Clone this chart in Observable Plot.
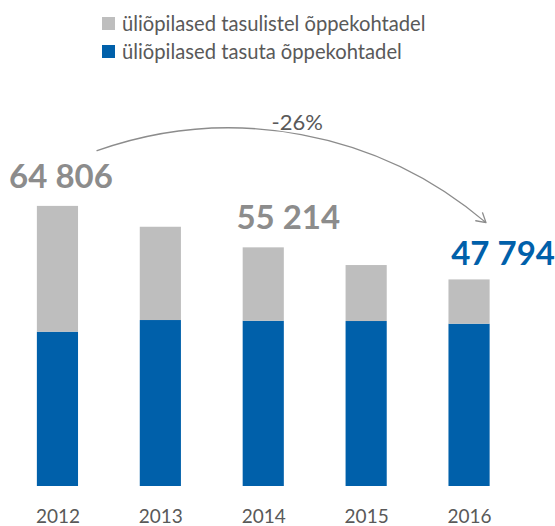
<!DOCTYPE html>
<html><head><meta charset="utf-8">
<script src="https://cdn.jsdelivr.net/npm/d3@7"></script>
<script src="https://cdn.jsdelivr.net/npm/@observablehq/plot@0.6"></script>
<style>
body{margin:0;background:#fff;font-family:Lato,"Open Sans",sans-serif;}
#legend{position:relative;height:80px;width:555px;}
.item{position:absolute;left:102px;display:flex;align-items:center;font-size:20.2px;color:#595959;white-space:nowrap;line-height:26px;}
.sw{width:13px;height:13px;margin-right:7px;flex:none;}
#chart svg{display:block;}
</style></head><body>
<div id="legend"></div><div id="chart"></div>
<script>
const years = [2012, 2013, 2014, 2015, 2016];
const paidPlaces = [29106, 21580, 16974, 12950, 10244];
const freePlaces = [35700, 38400, 38240, 38170, 37550];
const seriesNames = ["üliõpilased tasulistel õppekohtadel", "üliõpilased tasuta õppekohtadel"];
const seriesColors = ["#BEBEBE", "#0060AA"];
const changeLabel = "-26%";
const arrowFrom = {year: 2012.38, value: 77700};
const arrowTo = {year: 2016.16, value: 61050};

// legend
const legend = document.getElementById("legend");
seriesNames.forEach((name, i) => {
  const it = document.createElement("div");
  it.className = "item";
  it.style.top = (i === 0 ? 10 : 38) + "px";
  const sw = document.createElement("span");
  sw.className = "sw"; sw.style.background = seriesColors[i];
  const tx = document.createElement("span");
  tx.textContent = name;
  it.append(sw, tx);
  legend.append(it);
});

// stacked rows (free at bottom, paid on top)
const rows = years.flatMap((year, i) => [
  {year, series: seriesNames[1], y1: 0, y2: freePlaces[i]},
  {year, series: seriesNames[0], y1: freePlaces[i], y2: freePlaces[i] + paidPlaces[i]}
]);
const totals = years.map((year, i) => ({year, total: freePlaces[i] + paidPlaces[i]}));
const fmt = v => d3.format(",")(v).replace(",", " ");

const labelStyle = {text: d => fmt(d.total), fontWeight: "bold", fontSize: 33, textAnchor: "middle"};

const chart = Plot.plot({
  width: 555,
  height: 446,
  marginLeft: 6,
  marginRight: 34.5,
  marginTop: 17,
  marginBottom: 40,
  style: {fontFamily: "Lato, 'Open Sans', sans-serif", background: "#fff"},
  x: {domain: [2011.5, 2016.5], axis: null, label: null},
  y: {domain: [0, 90000], axis: null},
  color: {domain: seriesNames, range: seriesColors},
  marks: [
    Plot.rect(rows, {x1: d => d.year - 0.2, x2: d => d.year + 0.2, y1: "y1", y2: "y2", fill: "series"}),
    Plot.axisX({ticks: years, tickFormat: d => String(d), tickSize: 0, tickPadding: 23, fontSize: 19, color: "#595959", label: null}),
    Plot.text(totals.filter(d => d.year === 2012), {x: "year", y: "total", ...labelStyle, fill: "#8C8C8C", dx: 3, dy: -29}),
    Plot.text(totals.filter(d => d.year === 2014), {x: "year", y: "total", ...labelStyle, fill: "#8C8C8C", dx: 24.5, dy: -29}),
    Plot.text(totals.filter(d => d.year === 2016), {x: "year", y: "total", ...labelStyle, fill: "#0060AA", dx: 33.5, dy: -25}),
    Plot.arrow([{}], {x1: () => arrowFrom.year, y1: () => arrowFrom.value, x2: () => arrowTo.year, y2: () => arrowTo.value,
      bend: 30, stroke: "#8C8C8C", strokeWidth: 1.3, headLength: 12}),
    Plot.text([changeLabel], {x: () => 2014, frameAnchor: "top", text: d => d, dx: 33.5, dy: 16.5, fontSize: 22, fill: "#595959", textAnchor: "middle"})
  ]
});
document.getElementById("chart").append(chart);
</script>
</body></html>
